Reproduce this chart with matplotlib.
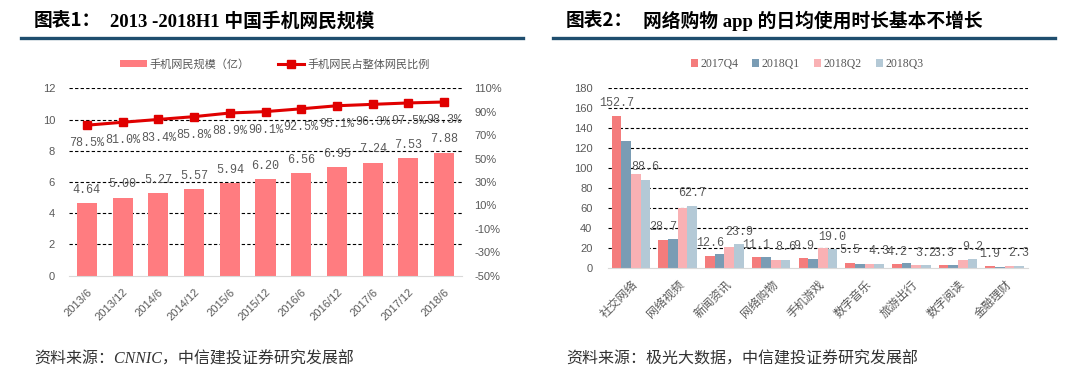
import matplotlib
matplotlib.use("Agg")
import matplotlib.pyplot as plt
from matplotlib.lines import Line2D
from matplotlib.patches import Patch
import numpy as np

plt.rcParams["font.family"] = ["Liberation Sans", "Noto Sans CJK SC"]

# chart 1 data
periods = ["2013/6", "2013/12", "2014/6", "2014/12", "2015/6", "2015/12",
           "2016/6", "2016/12", "2017/6", "2017/12", "2018/6"]
mobile_users = [4.64, 5.00, 5.27, 5.57, 5.94, 6.20, 6.56, 6.95, 7.24, 7.53, 7.88]
mobile_share = [78.5, 81.0, 83.4, 85.8, 88.9, 90.1, 92.5, 95.1, 96.3, 97.5, 98.3]

# chart 2 data
apps = ["社交网络", "网络视频", "新闻资讯", "网络购物", "手机游戏",
        "数字音乐", "旅游出行", "数字阅读", "金融理财"]
quarters = ["2017Q4", "2018Q1", "2018Q2", "2018Q3"]
q2017q4 = [152.7, 28.7, 12.6, 11.1, 9.9, 5.5, 4.2, 3.3, 1.9]
q2018q1 = [127.0, 29.7, 14.0, 11.0, 9.6, 4.3, 5.6, 3.3, 1.8]
q2018q2 = [94.0, 60.0, 21.0, 8.3, 20.3, 4.2, 3.2, 8.3, 2.3]
q2018q3 = [88.6, 62.7, 23.9, 8.6, 19.0, 4.3, 3.2, 9.2, 2.3]

GRAY = "#595959"
GRID = dict(color="black", linestyle=(0, (3, 2)), linewidth=0.8)
MONO = ["Liberation Mono"]
CJK = ["Noto Sans CJK SC"]

fig = plt.figure(figsize=(10.8, 3.8), dpi=100)
W, H = 1080, 380


def px(x0, y_top, x1, y_bot):
    return [x0 / W, 1 - y_bot / H, (x1 - x0) / W, (y_bot - y_top) / H]


def header(x_line0, x_line1, x_lab, lab, x_rest, rest):
    fig.text(x_lab / W, 1 - 21 / H, lab, family=CJK, fontsize=13.5,
             fontweight="bold", va="center", ha="left")
    fig.text(x_rest / W, 1 - 21 / H, rest, family=["Liberation Serif", "Noto Sans CJK SC"],
             fontsize=13.5, fontweight="bold", va="center", ha="left")
    fig.add_artist(Line2D([x_line0 / W, x_line1 / W], [1 - 38 / H] * 2,
                          color="#1f4e6e", linewidth=2.4))


def style_axis(ax):
    for s in ("top", "right", "left"):
        ax.spines[s].set_visible(False)
    ax.spines["bottom"].set_color("#d9d9d9")
    ax.tick_params(length=0, colors=GRAY, labelsize=8)
    ax.set_axisbelow(True)


# ---- chart 1: mobile users
header(21, 523, 34, "图表1：", 110, "2013 -2018H1 中国手机网民规模")

ax = fig.add_axes(px(69, 88.3, 462, 275.7))
x = np.arange(len(periods))
bars = ax.bar(x, mobile_users, width=0.56, color="#ff7c80")
ax.set_xlim(-0.5, len(periods) - 0.5)
ax.set_ylim(0, 12)
ax.set_yticks(range(0, 13, 2))
for yv in range(2, 13, 2):
    ax.axhline(yv, **GRID, zorder=0)
style_axis(ax)
ax.tick_params(axis="y", pad=10)
ax.set_xticks(x)
ax.set_xticklabels(periods, rotation=45, ha="right", rotation_mode="anchor")
ax.tick_params(axis="x", pad=8)
for xi, v in zip(x, mobile_users):
    ax.annotate(f"{v:.2f}", (xi, v), xytext=(0, 9.5), textcoords="offset points",
                ha="center", va="center", family=MONO, fontsize=8.5, color=GRAY)

ax2 = ax.twinx()
ax2.plot(x, [v / 100 for v in mobile_share], color="#e00000", linewidth=2.2,
         marker="s", markersize=5.5)
ax2.set_ylim(-0.5, 1.1)
ax2.set_yticks(np.arange(-0.5, 1.11, 0.2))
ax2.set_yticklabels([f"{int(round(t * 100))}%" for t in np.arange(-0.5, 1.11, 0.2)])
for s in ax2.spines.values():
    s.set_visible(False)
ax2.tick_params(length=0, colors=GRAY, labelsize=8, pad=9)
for xi, v in zip(x, mobile_share):
    ax2.annotate(f"{v:.1f}%", (xi, v / 100), xytext=(0, -13), textcoords="offset points",
                 ha="center", va="center", family=MONO, fontsize=8.5, color=GRAY)

fig.legend(
    handles=[Patch(facecolor="#ff7c80"),
             Line2D([], [], color="#e00000", linewidth=2.2, marker="s", markersize=5.5)],
    labels=["手机网民规模（亿）", "手机网民占整体网民比例"],
    loc="center", bbox_to_anchor=(275 / W, 1 - 64 / H), ncol=2, frameon=False,
    prop={"family": CJK, "size": 8}, labelcolor=GRAY, handlelength=2.4,
    handleheight=0.6, columnspacing=2.5, handletextpad=0.3,
)

fig.text(34 / W, 1 - 360 / H, "资料来源：CNNIC，中信建投证券研究发展部",
         family=["Liberation Serif", "Noto Sans CJK SC"], fontsize=11.5,
         style="italic", color="#333333", va="center", ha="left")

# ---- chart 2: app usage
header(553, 1055, 566, "图表2：", 643, "网络购物 app 的日均使用时长基本不增长")

bx = fig.add_axes(px(607.7, 88.3, 1028, 268.3))
xc = np.arange(len(apps))
colors = ["#f47c7c", "#7a9cb4", "#f9b1b4", "#b4c9d6"]
series = [q2017q4, q2018q1, q2018q2, q2018q3]
bw = 0.207
for i, (vals, col, lab) in enumerate(zip(series, colors, quarters)):
    bx.bar(xc + (i - 1.5) * bw, vals, width=bw, color=col, label=lab)
bx.set_xlim(-0.5, len(apps) - 0.5)
bx.set_ylim(0, 180)
bx.set_yticks(range(0, 181, 20))
for yv in range(20, 181, 20):
    bx.axhline(yv, **GRID, zorder=0)
style_axis(bx)
bx.tick_params(axis="y", pad=11)
bx.set_xticks(xc)
bx.set_xticklabels(apps, rotation=45, ha="right", rotation_mode="anchor",
                   family=CJK, fontsize=8.5)
bx.tick_params(axis="x", pad=7)
for i, vals in ((0, q2017q4), (3, q2018q3)):
    for xi, v in zip(xc, vals):
        bx.annotate(f"{v:.1f}", (xi + (i - 1.5) * bw, v), xytext=(0, 9),
                    textcoords="offset points", ha="center", va="center",
                    family=MONO, fontsize=8.5, color=GRAY)

fig.legend(
    handles=[Patch(facecolor=c) for c in colors], labels=quarters,
    loc="center", bbox_to_anchor=(807 / W, 1 - 64 / H), ncol=4, frameon=False,
    prop={"family": ["Liberation Serif"], "size": 8.5}, labelcolor=GRAY,
    handlelength=0.6, handleheight=0.6, columnspacing=1.2, handletextpad=0.2,
)

fig.text(566 / W, 1 - 360 / H, "资料来源：极光大数据，中信建投证券研究发展部",
         family=["Liberation Serif", "Noto Sans CJK SC"], fontsize=11.5,
         style="italic", color="#333333", va="center", ha="left")

fig.savefig("out.png", dpi=100, facecolor="white")
